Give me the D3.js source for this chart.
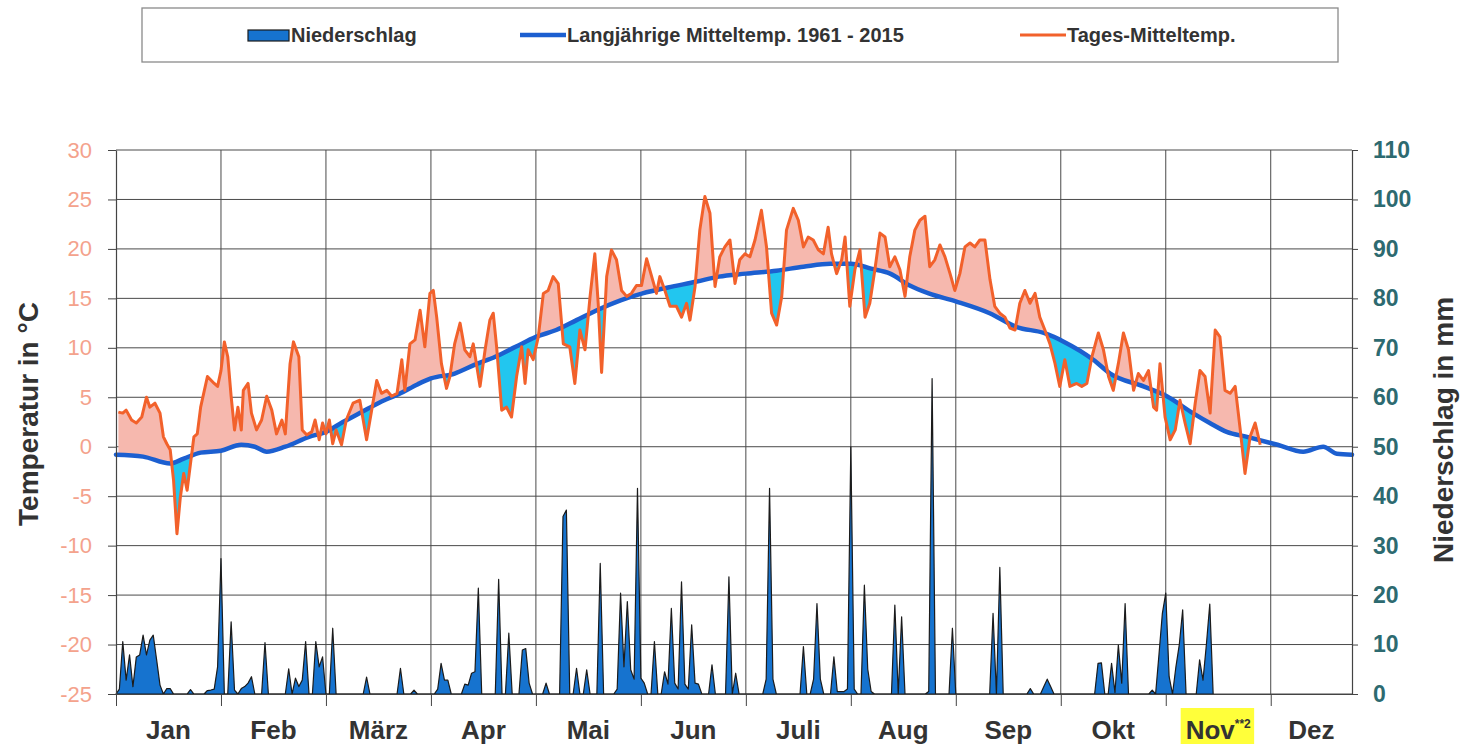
<!DOCTYPE html>
<html>
<head>
<meta charset="utf-8">
<script src="https://cdn.jsdelivr.net/npm/d3@7"></script>
<style>
  body { margin: 0; background: #fff; }
  svg { display: block; font-family: "Liberation Sans", Arial, sans-serif; }
</style>
</head>
<body>
<svg id="chart" width="1462" height="744"></svg>
<script>
// month labels (x axis, one interval = 31 days)
const monate = ["Jan", "Feb", "März", "Apr", "Mai", "Jun", "Juli", "Aug", "Sep", "Okt", "Nov", "Dez"];
const tempTicks = [-25, -20, -15, -10, -5, 0, 5, 10, 15, 20, 25, 30];
const rainTicks = [0, 10, 20, 30, 40, 50, 60, 70, 80, 90, 100, 110];

// long-term mean 1961-2015, [day of year, °C]
const langjMittel = [
  [0, -0.8], [8, -1.0], [16, -1.7], [20, -1.2], [25, -0.6], [31, -0.4], [37, 0.2], [41, 0.0],
  [44.5, -0.5], [50, 0.0], [57, 1.0], [62, 1.5], [67, 2.5], [72, 3.4], [78, 4.5], [84, 5.4],
  [89, 6.3], [93, 6.9], [100, 7.4], [106, 8.3], [112, 9.1], [118, 10.1], [124, 11.1], [130, 11.8],
  [136, 12.8], [142, 13.8], [149, 14.8], [155.5, 15.5], [163, 16.1], [171.5, 16.7], [178, 17.2],
  [186, 17.5], [195, 17.8], [203, 18.2], [211, 18.5], [217, 18.5], [223, 18.0], [228.6, 17.5],
  [234.4, 16.3], [240, 15.5], [248, 14.7], [258, 13.5], [266, 12.1], [274, 11.5], [280, 10.6],
  [288.6, 8.8], [293.6, 7.4], [303.4, 6.1], [310.3, 5.1], [318, 3.4], [323, 2.4], [328, 1.5],
  [334, 1.0], [343, 0.2], [350.6, -0.5], [356.5, 0.0], [360.5, -0.7], [365, -0.8]
];

// daily mean temperature, [day of year, °C]
const tagesTemp = [
  [0.7, 3.5], [2, 3.4], [3, 3.7], [4.6, 2.7], [6, 2.4], [7.6, 3.0], [9, 5.0], [10, 4.0], [11.5, 4.4],
  [13, 3.4], [14, 1.0], [15, 0.3], [16, -0.3], [17, -3.4], [18, -8.8], [19, -5.1], [20, -2.7],
  [21, -4.4], [22, -1.7], [23, 1.0], [24, 1.3], [25, 4.0], [27, 7.1], [29, 6.4], [30, 6.1], [31, 7.7],
  [32, 10.6], [33, 9.1], [34, 5.1], [35, 1.7], [36, 4.0], [37, 1.7], [37.6, 5.7], [39, 6.4], [40, 3.4],
  [41.5, 1.7], [43, 2.7], [44.5, 5.1], [46, 3.7], [47.4, 1.3], [49, 2.7], [50, 1.3], [51.4, 8.4],
  [52.4, 10.6], [54, 9.1], [55, 1.7], [56.3, 1.2], [57.8, 1.5], [58.8, 2.7], [60, 0.7], [61, 2.4],
  [62, 1.3], [63, 2.7], [64, 0.3], [65, 1.7], [66.6, 0.2], [68, 2.7], [70, 4.4], [72, 4.7], [74, 0.7],
  [75.5, 3.7], [77, 6.7], [78.4, 5.4], [80, 5.7], [81.4, 5.1], [83, 5.4], [84.4, 8.8], [85.3, 5.7],
  [86.8, 10.4], [88.3, 10.8], [89.8, 13.8], [91.2, 10.1],
  [92.7, 15.5], [93.7, 15.8], [94.7, 13.1], [96.1, 8.4], [97.6, 5.9], [98.6, 7.1], [100, 10.4],
  [101.6, 12.5], [103, 9.8], [104.5, 9.1], [105.5, 10.4], [107.5, 6.1], [109, 9.8], [110.4, 12.8],
  [111.4, 13.5], [112.4, 10.1], [113.9, 3.7], [115.3, 4.0], [116.8, 3.0], [118.3, 7.1], [119.8, 10.1],
  [120.8, 6.4], [121.7, 9.8], [123.2, 8.8], [124.7, 11.1], [126.2, 15.5], [127.6, 15.8], [129.1, 17.2],
  [130.6, 16.5], [132.1, 10.4], [134, 10.1], [135.5, 6.4], [137, 11.8], [138.5, 9.8], [140, 15.2],
  [141.4, 19.5], [142.4, 14.5], [143.4, 7.5], [144.9, 17.2], [146.3, 19.9], [147.8, 18.9], [149.3, 15.8],
  [150.8, 15.2], [152.2, 15.5], [153.7, 16.3], [155.2, 16.3], [156.7, 19.0], [158.2, 17.2], [159.6, 15.5],
  [160.6, 17.2], [162.1, 15.8], [163.6, 14.2], [165.5, 14.2], [167, 13.1], [168.5, 14.5], [169.5, 12.8],
  [171, 16.2], [172.4, 21.9], [173.9, 25.3], [175.4, 23.6], [176.9, 16.2], [178.3, 19.2], [179.8, 20.2],
  [181.3, 20.9], [182.8, 16.5], [184.2, 18.9], [185.7, 19.5],
  [187.2, 19.2], [188.7, 20.9], [190.6, 23.9], [192.1, 20.2], [193.6, 13.5], [195.1, 12.3], [196.6, 15.2],
  [198, 21.9], [200, 24.1], [201.5, 22.9], [203, 20.2], [204.4, 21.2], [205.9, 20.9], [207.4, 19.9],
  [208.9, 19.5], [210.3, 22.2], [211.3, 19.5], [212.8, 17.5], [214.3, 18.9], [215.3, 21.2], [216.7, 14.2],
  [218.2, 17.9], [219.7, 19.9], [221.2, 13.1], [222.6, 14.5], [224.1, 17.9], [225.6, 21.6], [227.1, 21.2],
  [228.5, 18.2], [230, 19.2], [231.5, 17.9], [233, 15.2], [234.4, 19.2], [235.9, 21.9], [237.4, 22.9],
  [238.9, 23.3], [240.3, 18.2], [241.8, 18.9], [243.3, 20.4], [244.8, 19.2], [246.3, 17.5], [247.7, 15.8],
  [249.2, 17.5], [250.7, 20.2], [252.2, 20.6], [253.6, 20.2], [255.1, 20.9], [256.6, 20.9], [258.1, 16.9],
  [259.5, 14.2], [261, 13.5], [262.5, 13.1], [264, 12.0], [265.5, 11.8], [266.9, 14.5], [268.4, 15.8],
  [269.9, 14.5], [271.4, 15.5], [272.8, 13.1], [274.3, 11.8], [275.8, 10.4], [277.3, 8.4], [278.7, 6.1],
  [280.2, 8.8], [281.7, 6.1],
  [283.7, 6.4], [285.2, 6.1], [286.7, 6.4], [288.2, 9.1], [290.1, 11.5], [291.6, 9.8], [293.1, 7.1],
  [294.5, 5.7], [296, 8.4], [297.5, 11.5], [299, 9.8], [300.5, 5.7], [301.9, 7.4], [303.4, 6.7],
  [304.9, 7.7], [306.4, 4.0], [307.3, 3.7], [308.3, 8.4], [309.8, 3.0], [311.3, 0.7], [312.8, 1.7],
  [314.2, 4.7], [315.7, 2.4], [317.2, 0.3], [318.7, 4.4], [320.1, 7.7], [321.6, 7.1], [323.1, 3.4],
  [324.6, 11.8], [326, 11.1], [327.5, 5.7], [329, 5.4], [330.5, 6.1], [332, 1.7], [333.4, -2.7],
  [334.9, 1.0], [336.4, 2.4], [337.9, 0.2]
];

// daily precipitation in mm, starting at day 0 (one row per 31-day interval)
const niederschlag = [
  0, 1, 10.6, 2.8, 7.9, 1.5, 7.5, 7.9, 11.9, 7.9, 10.9, 11.9, 6.9, 1.8, 0, 1.1, 1.1, 0, 0, 0, 0, 0, 0.9, 0, 0, 0, 0, 0.7, 0.8, 1, 5.5,
  27.4, 0, 0, 14.6, 0.8, 0, 1.1, 1.5, 2.2, 3.5, 0, 0, 0, 10.4, 0, 0, 0, 0, 0, 0, 5.1, 0, 3.2, 1.5, 2.8, 10.6, 0, 0, 10.6, 5.5, 7.5,
  0, 0, 13.3, 0, 0, 0, 0, 0, 0, 0, 0, 0, 3.4, 0, 0, 0, 0, 0, 0, 0, 0, 0, 5.2, 0, 0, 0, 0.8, 0, 0, 0, 0,
  0, 0, 1, 6.2, 2.8, 2.8, 0, 0, 0, 0, 2.0, 1.8, 4.2, 4.5, 21.4, 0, 0, 0, 0, 0, 23.2, 0, 0, 12.3, 0, 0, 0, 8.9, 9.2, 2.2, 0,
  0, 0, 0, 2.2, 0, 0, 0, 0, 35.9, 37.2, 0, 0, 5.2, 0, 0, 4.9, 0, 0, 0, 26.4, 0, 0, 0, 0, 1, 20.4, 5.5, 18.7, 4.9, 3, 41.6,
  3.2, 2.2, 0, 0, 10.6, 0, 0, 4.5, 2, 17.3, 2.2, 1, 22.7, 2, 1, 14.0, 2.2, 2, 0, 0, 0, 5.9, 0, 0, 0, 0, 23.7, 0, 4.2, 0, 0,
  0, 0, 0, 0, 0, 0, 3, 41.6, 3, 0, 0, 0, 0, 0, 0, 0, 0, 9.6, 0, 0, 3, 18.3, 3, 0, 0, 0, 7.5, 0.5, 0.5, 0.5, 1,
  50.0, 1, 0, 0, 22.0, 5, 0.5, 0, 0, 0, 0, 0, 0, 18.0, 0, 15.6, 0, 0, 0, 0, 0, 0, 0, 0.5, 63.8, 0, 0, 0, 0, 0, 13.3,
  0, 0, 0, 0, 0, 0, 0, 0, 0, 0, 0, 16.3, 0, 25.6, 0, 0, 0, 0, 0, 0, 0, 0, 1.1, 0, 0, 0, 1.5, 3.0, 1.5, 0, 0,
  0, 0, 0, 0, 0, 0, 0, 0, 0, 0, 0, 6.2, 6.3, 0, 0, 6.2, 0.3, 9.9, 2.2, 18.3, 0, 0, 0, 0, 0, 0, 0, 0.8, 0, 8, 16.3,
  20.4, 3.5, 0, 5.5, 10, 17.0, 0, 0, 0, 0, 6.9, 2.8, 10, 18.2, 0
];

const svg = d3.select("#chart");
const plotLeft = 116, plotRight = 1352, plotTop = 150, plotBottom = 694;

const x = d3.scaleLinear().domain([0, 365]).range([plotLeft, plotRight]);
const yT = d3.scaleLinear().domain([-25, 30]).range([plotBottom, plotTop]);
const yP = d3.scaleLinear().domain([0, 110]).range([plotBottom, plotTop]);
const monthStarts = monate.map((m, i) => i * 31);

// grid
const grid = svg.append("g").attr("stroke", "#4a4a4a").attr("stroke-width", 1);
grid.selectAll("line.h")
  .data(tempTicks)
  .join("line")
  .attr("class", "h")
  .attr("x1", plotLeft).attr("x2", plotRight)
  .attr("y1", d => yT(d)).attr("y2", d => yT(d));
grid.selectAll("line.v")
  .data(monthStarts.slice(1))
  .join("line")
  .attr("class", "v")
  .attr("x1", d => x(d)).attr("x2", d => x(d))
  .attr("y1", plotTop).attr("y2", plotBottom);

// precipitation
svg.append("path")
  .datum(niederschlag)
  .attr("fill", "#1673cf")
  .attr("stroke", "#1b1b1b")
  .attr("stroke-width", 1.2)
  .attr("stroke-linejoin", "round")
  .attr("d", d3.area()
    .x((d, i) => x(i))
    .y0(yP(0))
    .y1(d => yP(d)));

// deviation fills between daily temp and long-term mean
const defs = svg.append("defs");
const meanCurve = d3.curveMonotoneX;
defs.append("clipPath").attr("id", "aboveMean")
  .append("path")
  .attr("d", d3.area().x(d => x(d[0])).y0(plotTop).y1(d => yT(d[1])).curve(meanCurve)(langjMittel));
defs.append("clipPath").attr("id", "belowMean")
  .append("path")
  .attr("d", d3.area().x(d => x(d[0])).y0(plotBottom).y1(d => yT(d[1])).curve(meanCurve)(langjMittel));

svg.append("path")
  .datum(tagesTemp)
  .attr("clip-path", "url(#aboveMean)")
  .attr("fill", "#f6b8ae")
  .attr("d", d3.area().x(d => x(d[0])).y0(plotBottom).y1(d => yT(d[1])));
svg.append("path")
  .datum(tagesTemp)
  .attr("clip-path", "url(#belowMean)")
  .attr("fill", "#22c6ef")
  .attr("d", d3.area().x(d => x(d[0])).y0(plotTop).y1(d => yT(d[1])));

// long-term mean line
svg.append("path")
  .datum(langjMittel)
  .attr("fill", "none")
  .attr("stroke", "#1c5fd0")
  .attr("stroke-width", 4.5)
  .attr("stroke-linecap", "round")
  .attr("d", d3.line().x(d => x(d[0])).y(d => yT(d[1])).curve(meanCurve));

// daily temperature line
svg.append("path")
  .datum(tagesTemp)
  .attr("fill", "none")
  .attr("stroke", "#f2612b")
  .attr("stroke-width", 3)
  .attr("stroke-linejoin", "round")
  .attr("d", d3.line().x(d => x(d[0])).y(d => yT(d[1])));

// axes
const styleAxis = g => {
  g.select(".domain").attr("stroke", "#444").attr("stroke-width", 1.2);
  g.selectAll(".tick line").attr("stroke", "#444");
};

svg.append("g")
  .attr("transform", `translate(${plotLeft},0)`)
  .call(d3.axisLeft(yT).tickValues(tempTicks).tickSize(8).tickSizeOuter(0).tickPadding(16).tickFormat(d => String(d)))
  .call(styleAxis)
  .call(g => g.selectAll("text")
    .attr("fill", "#f4a28c")
    .attr("font-size", 22)
    .attr("font-family", "Liberation Sans, Arial, sans-serif"));

svg.append("g")
  .attr("transform", `translate(${plotRight},0)`)
  .call(d3.axisRight(yP).tickValues(rainTicks).tickSize(6).tickSizeOuter(0).tickPadding(15).tickFormat(d => String(d)))
  .call(styleAxis)
  .call(g => g.selectAll("text")
    .attr("fill", "#2d6a70")
    .attr("font-size", 23)
    .attr("font-weight", "bold")
    .attr("font-family", "Liberation Sans, Arial, sans-serif"));

svg.append("g")
  .attr("transform", `translate(0,${plotBottom})`)
  .call(d3.axisBottom(x).tickValues(monthStarts).tickSize(12).tickSizeOuter(0).tickFormat(""))
  .call(styleAxis);

// month labels
const monthLabels = svg.append("g")
  .attr("font-size", 26)
  .attr("font-weight", "bold")
  .attr("fill", "#333")
  .attr("text-anchor", "middle");

monate.forEach((m, i) => {
  const mid = (i * 31 + Math.min((i + 1) * 31, 365)) / 2;
  const t = monthLabels.append("text")
    .attr("x", x(mid))
    .attr("y", 739)
    .text(m);
  if (m === "Nov") {
    t.append("tspan")
      .attr("font-size", 12)
      .attr("dy", -11)
      .text("**2");
    const bb = t.node().getBBox();
    monthLabels.insert("rect", "text:last-child")
      .attr("x", bb.x - 5)
      .attr("y", 708)
      .attr("width", bb.width + 8)
      .attr("height", 36)
      .attr("fill", "#ffff3a");
  }
});

// axis titles
svg.append("text")
  .attr("transform", "translate(38,414) rotate(-90)")
  .attr("text-anchor", "middle")
  .attr("font-size", 28)
  .attr("font-weight", "bold")
  .attr("fill", "#333")
  .text("Temperatur in °C");

svg.append("text")
  .attr("transform", "translate(1453,430) rotate(-90)")
  .attr("text-anchor", "middle")
  .attr("font-size", 28)
  .attr("font-weight", "bold")
  .attr("fill", "#333")
  .text("Niederschlag in mm");

// legend
const legend = svg.append("g");
legend.append("rect")
  .attr("x", 142).attr("y", 8)
  .attr("width", 1196).attr("height", 54)
  .attr("fill", "none")
  .attr("stroke", "#8a8a8a")
  .attr("stroke-width", 1.3);

const items = [
  { label: "Niederschlag", kind: "area", x: 248 },
  { label: "Langjährige Mitteltemp. 1961 - 2015", kind: "mean", x: 520 },
  { label: "Tages-Mitteltemp.", kind: "temp", x: 1020 }
];
items.forEach(it => {
  if (it.kind === "area") {
    legend.append("rect")
      .attr("x", it.x).attr("y", 30)
      .attr("width", 41).attr("height", 11)
      .attr("fill", "#1673cf")
      .attr("stroke", "#1b1b1b")
      .attr("stroke-width", 1.2);
  } else {
    legend.append("line")
      .attr("x1", it.x).attr("x2", it.x + 46)
      .attr("y1", 35).attr("y2", 35)
      .attr("stroke", it.kind === "mean" ? "#1c5fd0" : "#f2612b")
      .attr("stroke-width", it.kind === "mean" ? 4.5 : 3);
  }
  legend.append("text")
    .attr("x", it.x + (it.kind === "area" ? 43 : 47))
    .attr("y", 42)
    .attr("font-size", 20)
    .attr("font-weight", "bold")
    .attr("fill", "#333")
    .text(it.label);
});
</script>
</body>
</html>
